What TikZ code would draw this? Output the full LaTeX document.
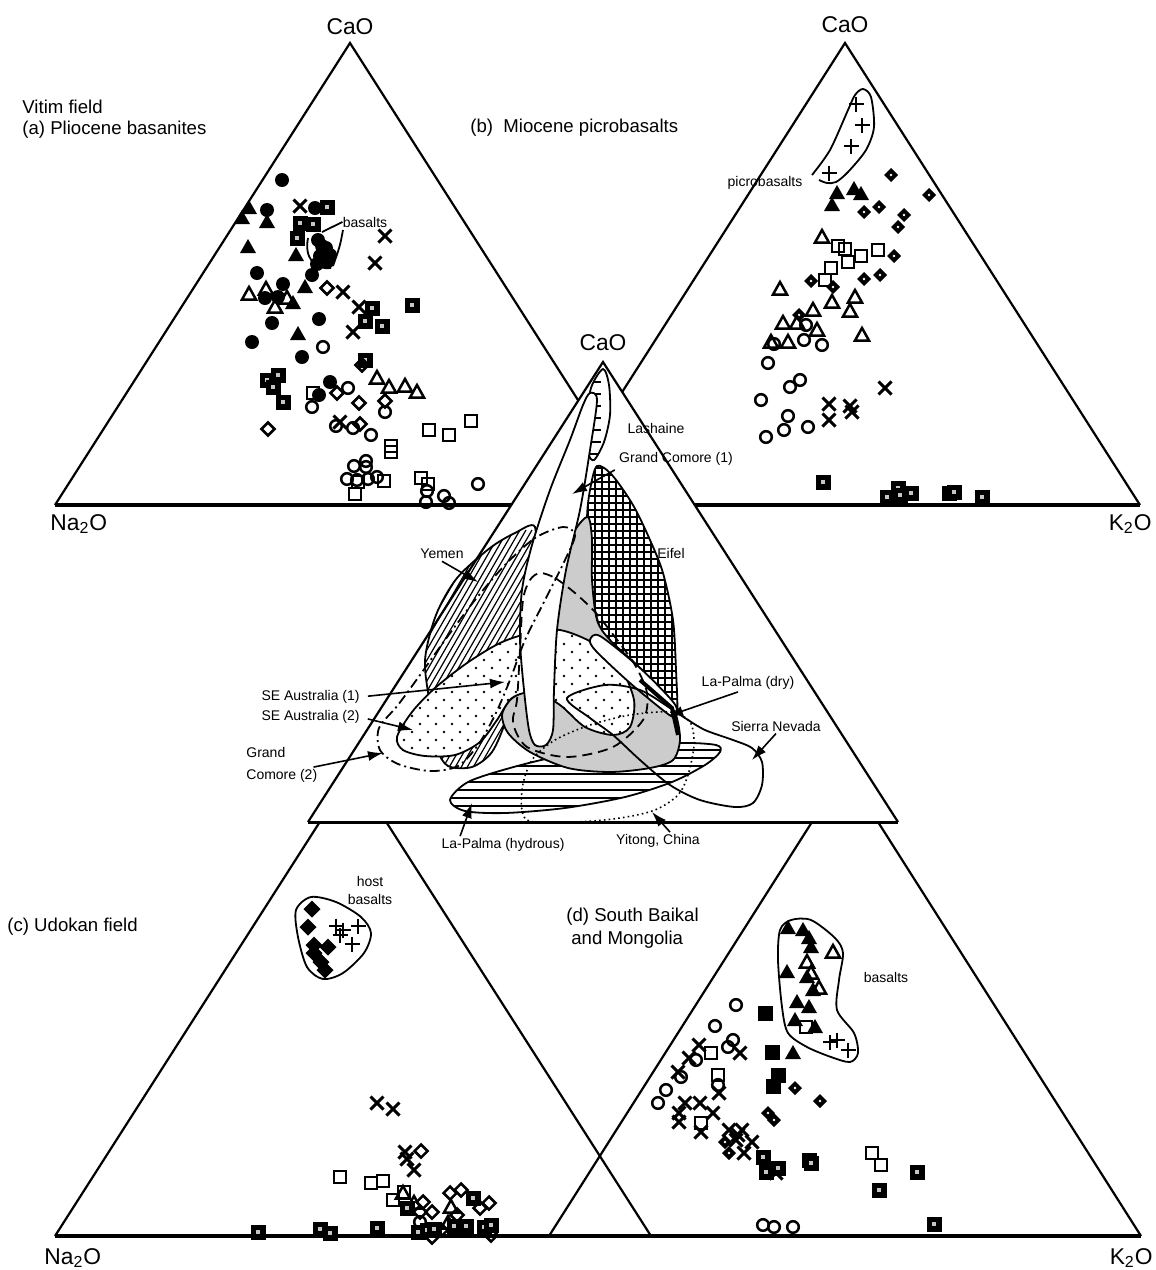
\documentclass[tikz,border=0pt]{standalone}
\usepackage{fontspec}
\setmainfont{Liberation Sans}
\usetikzlibrary{arrows.meta}
\newcommand\dFC[1]{\foreach \p in {#1}{\fill[shift={(\p)}] (0,0) circle (7);}}
\newcommand\dOC[1]{\foreach \p in {#1}{\draw[line width=1.25pt,shift={(\p)}] (0,0) circle (5.8);}}
\newcommand\dFT[1]{\foreach \p in {#1}{\fill[shift={(\p)}] (-8,6) -- (8,6) -- (0,-8) -- cycle;}}
\newcommand\dOT[1]{\foreach \p in {#1}{\draw[line width=1.25pt,line join=miter,shift={(\p)}] (-7,5.5) -- (7,5.5) -- (0,-7) -- cycle;}}
\newcommand\dOS[1]{\foreach \p in {#1}{\draw[line width=1.25pt,shift={(\p)}] (-6,-6) rectangle (6,6);}}
\newcommand\dGS[1]{\foreach \p in {#1}{\fill[shift={(\p)}] (-7.5,-7.5) rectangle (7.5,7.5); \fill[gray!45,shift={(\p)}] (-2.2,-2.2) rectangle (2.2,2.2);}}
\newcommand\dFS[1]{\foreach \p in {#1}{\fill[shift={(\p)}] (-7.5,-7.5) rectangle (7.5,7.5);}}
\newcommand\dXX[1]{\foreach \p in {#1}{\draw[line width=1.5pt,shift={(\p)}] (-6.5,-6.5) -- (6.5,6.5) (-6.5,6.5) -- (6.5,-6.5);}}
\newcommand\dPL[1]{\foreach \p in {#1}{\draw[line width=1.4pt,shift={(\p)}] (-7.5,0) -- (7.5,0) (0,-7.5) -- (0,7.5);}}
\newcommand\dOD[1]{\foreach \p in {#1}{\draw[line width=1.25pt,shift={(\p)}] (-6.5,0) -- (0,-6.5) -- (6.5,0) -- (0,6.5) -- cycle;}}
\newcommand\dGD[1]{\foreach \p in {#1}{\fill[shift={(\p)}] (-7,0) -- (0,-7) -- (7,0) -- (0,7) -- cycle; \fill[white,shift={(\p)}] (0,0) circle (1.4);}}
\newcommand\dFD[1]{\foreach \p in {#1}{\fill[shift={(\p)}] (-8.5,0) -- (0,-8.5) -- (8.5,0) -- (0,8.5) -- cycle;}}
\begin{document}
\begin{tikzpicture}[x=0.5pt,y=-0.5pt,
  trframe/.style={line width=1.1pt, line join=miter},
  trbase/.style={line width=1.7pt},
  fl/.style={line width=0.9pt},
  ox/.style={font=\fontsize{11.4}{13}\selectfont, inner sep=0pt},
  ttl/.style={font=\fontsize{9.3}{11}\selectfont, inner sep=0pt},
  lab/.style={font=\fontsize{7}{8.4}\selectfont, inner sep=0pt},
  arr/.style={line width=0.8pt, -{Latex[length=7.5pt,width=5pt]}}]
\useasboundingbox (0,0) rectangle (1156,1270);
\fill[white] (0,0) rectangle (1156,1270);

% ---------- frames of the four outer diagrams
\draw[trframe] (55,505) -- (350,43) -- (645,505);
\draw[trbase] (55,505) -- (645,505);
\draw[trframe] (550,505) -- (845,43) -- (1140,505);
\draw[trbase] (550,505) -- (1140,505);
\draw[trframe] (55,1236) -- (353,770) -- (651,1236);
\draw[trbase] (55,1236) -- (651,1236);
\draw[trframe] (549,1236) -- (845,770) -- (1141,1236);
\draw[trbase] (549,1236) -- (1141,1236);

% ---------- labels of outer diagrams
\node[ox] (caoA) at (350,27) {CaO};
\node[ox] (caoB) at (845,25) {CaO};
\node[ox,anchor=west] (naA) at (50,524) {Na\textsubscript{2}O};
\node[ox,anchor=east] (kB) at (1152,524) {K\textsubscript{2}O};
\node[ox,anchor=west] (naC) at (44,1258) {Na\textsubscript{2}O};
\node[ox,anchor=east] (kD) at (1153,1258) {K\textsubscript{2}O};
\node[ttl,anchor=west] (vitim) at (22,107) {Vitim field};
\node[ttl,anchor=west] (ta) at (22,130) {(a) Pliocene basanites};
\node[ttl,anchor=west] (tb) at (470,128) {(b)\ \ Miocene picrobasalts};
\node[ttl,anchor=west] (tc) at (7,927) {(c) Udokan field};
\node[ttl,anchor=west] (td1) at (566,917) {(d) South Baikal};
\node[ttl,anchor=west] (td2) at (571,940) {and Mongolia};

% ---------- (a) Pliocene basanites
\dFC{{282,180},{267,210},{315,208},{257,273},{283,284},{312,275},{265,298},{278,297},{272,323},{319,319},{252,342},{302,357},{330,382},{319,395}}
\dFC{{318,240},{326,248},{320,256},{330,255},{317,264},{327,262},{322,246}}
\dFT{{249,208},{242,218},{267,222},{248,247},{296,255},{305,287},{293,303},{298,334}}
\dOT{{249,294},{266,289},{275,307},{287,298},{377,378},{389,387},{405,386},{417,392}}
\dXX{{300,206},{385,236},{375,263},{343,292},{359,307},{353,332},{340,422}}
\dGS{{327,207},{300,223},{313,224},{297,238},{372,308},{365,321},{382,326},{412,305},{365,360},{267,380},{278,375},{273,387},{283,402}}
\dOD{{327,288},{362,365},{337,393},{359,403},{385,401},{360,424},{268,429}}
\dOC{{323,347},{348,388},{312,407},{385,412},{336,426},{353,428},{371,435},{354,466},{366,461},{366,467},{347,479},{357,480},{368,479},{377,477},{427,491},{426,502},{444,496},{449,503},{478,484}}
\dOS{{313,393},{429,430},{449,435},{471,421},{391,446},{391,452},{358,482},{384,481},{355,494},{421,478},{428,484}}
\node[lab] (basA) at (365,222) {basalts};
\coordinate (basAtip) at (322,232);
\draw[fl] (basA.west) -- (basAtip);
\draw[fl] (343,230) .. controls (340,246) .. (333,266);
\draw[fl] (308,238) .. controls (304,258) and (315,270) .. (331,268);

% ---------- (b) Miocene picrobasalts
\draw[fl] plot[smooth] coordinates {(812,175) (830,150) (848,110) (855,95) (863,89) (871,97) (874,127) (866,150) (848,172) (836,182) (827,183) (819,180)};
\node[lab] (picro) at (765,183) {picrobasalts};
\dPL{{856,104},{862,125},{851,146},{829,173}}
\dFT{{837,193},{832,205},{854,189},{861,194}}
\dGD{{891,175},{929,195},{864,212},{879,207},{904,215},{898,227},{894,256},{864,279},{880,275},{811,281},{833,287},{799,315}}
\dOT{{822,237},{780,289},{855,297},{832,302},{813,310},{850,311},{783,323},{797,323},{817,330},{788,342},{771,342},{862,335}}
\dOS{{838,246},{845,249},{861,256},{848,262},{878,250},{831,268},{825,280}}
\dOC{{806,325},{804,340},{822,345},{774,344},{768,363},{800,380},{790,387},{761,400},{788,416},{784,430},{808,427},{766,437}}
\dXX{{885,388},{829,404},{829,420},{850,406},{852,412}}
\dGS{{823,482},{887,497},{898,488},{911,493},{949,493},{954,492},{982,497},{900,495}}

% ---------- (c) Udokan field
\draw[fl] plot[smooth cycle] coordinates {(296,910) (311,897) (336,902) (361,917) (371,933) (364,953) (343,973) (323,979) (307,967) (298,937)};
\node[lab] (hostc) at (370,881) {host};
\node[lab] (basc) at (370,899) {basalts};
\dFD{{312,909},{308,927},{314,945},{328,947},{314,953},{321,962},{325,970}}
\dPL{{336,926},{343,930},{358,926},{352,944},{340,935}}
\dXX{{377,1103},{393,1109},{405,1152},{407,1159},{414,1170}}
\dOD{{421,1151},{423,1202},{432,1212},{420,1212},{450,1193},{461,1190},{457,1215},{441,1230},{491,1235},{432,1237},{489,1203},{480,1208}}
\dOS{{340,1177},{371,1183},{383,1181},{393,1200},{404,1192}}
\dOT{{403,1193},{414,1203},{451,1207},{448,1223}}
\dGS{{407,1208},{473,1198},{258,1232},{320,1229},{330,1233},{377,1228},{418,1232},{427,1230},{434,1229},{454,1226},{466,1226},{484,1227},{491,1225}}
\dOC{{420,1222}}

% ---------- (d) South Baikal and Mongolia
\draw[fl] plot[smooth cycle] coordinates {(791,920) (811,920) (835,938) (843,953) (839,980) (837,1010) (854,1033) (858,1053) (850,1062) (831,1057) (807,1047) (788,1033) (782,1007) (778,960) (780,930)};
\node[lab] (basd) at (886,977) {basalts};
\dFT{{788,928},{803,930},{809,938},{811,947},{787,972},{807,977},{813,990},{797,1002},{809,1007},{795,1020},{815,1027},{793,1053}}
\dOT{{833,952},{807,962},{811,973},{819,988}}
\dOS{{806,1027},{711,1053},{718,1075},{701,1123},{872,1153},{881,1165}}
\dPL{{830,1042},{837,1040},{848,1050}}
\dFS{{765,1013},{772,1052},{778,1075},{773,1086}}
\dGD{{795,1088},{820,1101},{768,1113},{774,1120},{725,1142},{729,1153}}
\dOC{{736,1005},{715,1026},{733,1040},{728,1047},{696,1060},{681,1077},{666,1090},{658,1103},{718,1085},{763,1225},{774,1227},{793,1227}}
\dXX{{699,1045},{740,1053},{689,1058},{678,1072},{685,1103},{700,1103},{713,1113},{679,1113},{679,1122},{701,1132},{719,1093},{729,1130},{742,1130},{752,1142},{744,1153},{736,1140},{776,1173},{738,1135}}
\dGS{{763,1157},{766,1172},{778,1168},{809,1160},{811,1163},{917,1172},{879,1190},{934,1224}}

% ---------- central diagram
\fill[white] (603,362) -- (308,822) -- (898,822) -- cycle;
% Eifel grid
\draw[fl, fill=white, path picture={
  \foreach \i in {560,567,...,700} \draw[black,line width=1pt] (\i,440) -- (\i,740);
  \foreach \j in {440,447,...,740} \draw[black,line width=1pt] (540,\j) -- (700,\j);}]
  plot[smooth cycle] coordinates {(597,466) (612,475) (633,505) (650,540) (663,573) (673,620) (676,670) (677,714) (668,712) (650,695) (625,668) (605,640) (595,610) (590,570) (587,520) (590,490)};
% Yemen hatch
\draw[fl, fill=white, path picture={
  \foreach \i in {250,256,...,570} \draw[black,line width=0.6pt] (\i,790) -- ++(150,-260);}]
  plot[smooth cycle] coordinates {(535,527) (532,575) (524,625) (516,680) (506,720) (492,752) (472,767) (448,766) (437,748) (430,705) (425,660) (436,615) (457,578) (490,548) (515,533)};
% La-Palma hydrous
\draw[fl, fill=white, path picture={
  \foreach \j in {742,750,...,818} \draw[black,line width=0.9pt] (440,\j) -- (730,\j);}]
  plot[smooth cycle] coordinates {(450,800) (468,782) (510,768) (560,756) (620,748) (680,743) (716,745) (720,752) (705,765) (672,782) (625,797) (565,808) (505,813) (465,811)};
% grey field
\draw[fl, fill=gray!40]
  plot[smooth cycle] coordinates {(588,517) (592,540) (592,580) (597,620) (610,640) (640,668) (665,695) (676,715) (680,740) (673,760) (650,768) (610,772) (568,768) (530,752) (508,733) (502,715) (510,700) (525,690) (545,680) (553,650) (555,600) (560,560) (575,530)};
% dotted field
\draw[fl, fill=white, path picture={
  \foreach \i in {380,396,...,650} {\foreach \j in {620,636,...,770} {\fill[black] (\i,\j) circle (1.3); \fill[black] (\i+8,\j+8) circle (1.3);}}}]
  plot[smooth cycle] coordinates {(397,737) (412,712) (435,688) (467,663) (500,643) (530,633) (560,630) (593,643) (620,667) (634,700) (630,727) (613,735) (585,727) (560,705) (535,692) (512,698) (497,720) (480,742) (455,755) (425,756) (403,750)};
% La-Palma dry band
\draw[fl, fill=white] plot[smooth cycle] coordinates {(590,640) (600,636) (640,668) (674,703) (676,716) (668,714) (630,683) (596,651)};
\draw[line width=2pt] (640,680) -- (672,708) -- (678,735);
% Lashaine
\draw[fl, fill=white, path picture={
  \foreach \j in {382,394,...,458} \draw[black,line width=0.8pt] (590,\j) -- (601,\j);}]
  plot[smooth cycle] coordinates {(603,369) (609,385) (610,415) (604,442) (594,460) (588,452) (587,420) (591,388)};
% white spike (Grand Comore 1)
\draw[fl, fill=white] plot[smooth cycle] coordinates {(590,393) (597,400) (590,450) (580,510) (566,570) (557,630) (554,690) (553,730) (546,745) (535,745) (529,730) (524,690) (520,640) (522,590) (532,545) (550,490) (570,440) (583,405)};
% outlines
\draw[fl, dash pattern=on 5pt off 3pt] plot[smooth cycle] coordinates {(540,573) (555,578) (575,593) (595,612) (615,637) (635,665) (647,693) (643,720) (613,747) (567,757) (527,747) (513,723) (517,700) (520,650) (523,600) (530,580)};
\draw[fl, dash pattern=on 5pt off 2pt on 1pt off 2pt] plot[smooth cycle] coordinates {(563,527) (575,535) (565,560) (545,600) (525,640) (510,680) (495,715) (478,745) (458,766) (430,771) (398,764) (380,750) (379,728) (398,705) (420,675) (445,640) (475,600) (505,565) (535,538)};
\draw[line width=0.8pt, dash pattern=on 0.8pt off 1.6pt] plot[smooth cycle] coordinates {(527,820) (522,790) (532,760) (555,740) (590,725) (630,715) (670,712) (690,722) (694,745) (688,775) (678,795) (655,810) (620,818) (575,822)};
\draw[fl] plot[smooth cycle] coordinates {(567,698) (590,718) (613,735) (640,760) (670,785) (700,800) (735,807) (753,803) (762,785) (762,762) (752,748) (733,740) (705,730) (685,718) (670,708) (640,690) (605,685)};
% central frame
\draw[trframe] (308,822) -- (603,362) -- (898,822);
\draw[line width=1.5pt] (308,822) -- (898,822);
\node[ox] (caoC) at (603,343) {CaO};

% central labels and arrows
\node[lab] (lash) at (656,428) {Lashaine};
\node[lab] (gc1) at (676,459) {Grand Comore (1)};
\node[lab] (eifel) at (671,553) {Eifel};
\node[lab] (yemen) at (442,554) {Yemen};
\node[lab,anchor=east] (seA1) at (360,697) {SE Australia (1)};
\node[lab,anchor=east] (seA2) at (360,717) {SE Australia (2)};
\node[lab,anchor=west] (gc2a) at (246,752) {Grand};
\node[lab,anchor=west] (gc2b) at (246,776) {Comore (2)};
\node[lab] (lpd) at (748,683) {La-Palma (dry)};
\node[lab] (sn) at (776,726) {Sierra Nevada};
\node[lab] (lph) at (503,845) {La-Palma (hydrous)};
\node[lab] (yit) at (658,841) {Yitong, China};
\coordinate (tGc1) at (572,494);
\coordinate (tYem) at (478,582);
\coordinate (tSe1) at (505,682);
\coordinate (tSe2) at (413,730);
\coordinate (tGc2) at (383,753);
\coordinate (tLpd) at (668,716);
\coordinate (tSn) at (752,760);
\coordinate (tLph) at (472,803);
\coordinate (tYit) at (652,812);
\draw[arr] ([xshift=-2pt,yshift=-2pt]gc1.south west) -- (tGc1);
\draw[arr] ([yshift=-1pt]yemen.south) -- (tYem);
\draw[arr, shorten <=4pt] (seA1.east) -- (tSe1);
\draw[arr, shorten <=4pt] (seA2.east) -- (tSe2);
\draw[arr] ([xshift=-2pt,yshift=1pt]gc2b.north east) -- (tGc2);
\draw[arr] ([xshift=-5pt,yshift=-1pt]lpd.south) -- (tLpd);
\draw[arr] ([yshift=-1pt]sn.south) -- (tSn);
\draw[arr] ([xshift=9.5pt,yshift=1pt]lph.north west) -- (tLph);
\draw[arr] ([xshift=6pt,yshift=1pt]yit.north) -- (tYit);
\end{tikzpicture}
\end{document}
